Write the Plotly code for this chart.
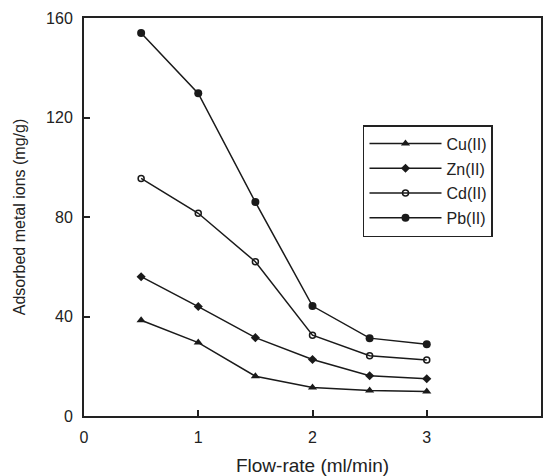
import plotly.graph_objects as go

flow_rate = [0.5, 1.0, 1.5, 2.0, 2.5, 3.0]
cu = [38.5, 29.5, 16.0, 11.5, 10.3, 9.8]
zn = [56.0, 44.0, 31.5, 22.7, 16.2, 15.0]
cd = [95.5, 81.5, 62.0, 32.5, 24.2, 22.5]
pb = [154.0, 129.7, 86.0, 44.2, 31.3, 28.8]

series = [
    ("Cu(II)", cu, "triangle-up", 8, 0),
    ("Zn(II)", zn, "diamond", 7, 0),
    ("Cd(II)", cd, "circle-open", 6, 1.5),
    ("Pb(II)", pb, "circle", 8, 0),
]

font_family = "Arial"
ink = "#1a1a1a"

fig = go.Figure()
for name, vals, sym, size, lw in series:
    fig.add_trace(go.Scatter(
        x=flow_rate, y=vals, name=name, mode="lines+markers",
        legendgroup=name,
        line=dict(color=ink, width=1.5),
        marker=dict(symbol=sym, size=size, color=ink,
                    line=dict(color=ink, width=lw)),
    ))

fig.update_layout(
    width=545, height=476,
    margin=dict(l=84, r=4, t=18, b=60),
    paper_bgcolor="white", plot_bgcolor="white",
    font=dict(family=font_family, size=16, color="#222222"),
    showlegend=True,
    legend=dict(
        x=0.6105, y=0.731, xanchor="left", yanchor="top",
        bordercolor="#222222", borderwidth=1.5,
        bgcolor="white",
        font=dict(size=16, family=font_family, color="#222222"),
        tracegroupgap=1,
        itemwidth=72,
        entrywidth=125,
    ),
    xaxis=dict(
        range=[0, 4], tickvals=[0, 1, 2, 3, 4],
        ticks="inside", ticklen=6, tickwidth=1.5, tickcolor="#222222",
        showline=True, linewidth=2, linecolor="#222222", mirror=True,
        showgrid=False, zeroline=False, automargin=False,
        title=dict(text="Flow-rate (ml/min)", standoff=19),
        ticklabelstandoff=6,
    ),
    yaxis=dict(
        range=[0, 160], tickvals=[0, 40, 80, 120, 160],
        ticks="inside", ticklen=6, tickwidth=1.5, tickcolor="#222222",
        showline=True, linewidth=2, linecolor="#222222", mirror=True,
        showgrid=False, zeroline=False, automargin=False,
        title=dict(text="Adsorbed metal ions (mg/g)", standoff=16,
                   font=dict(size=16)),
        ticklabelstandoff=6,
    ),
)

fig.write_html("out.html", config={"displayModeBar": False},
               post_script="document.body.style.margin='0';")
